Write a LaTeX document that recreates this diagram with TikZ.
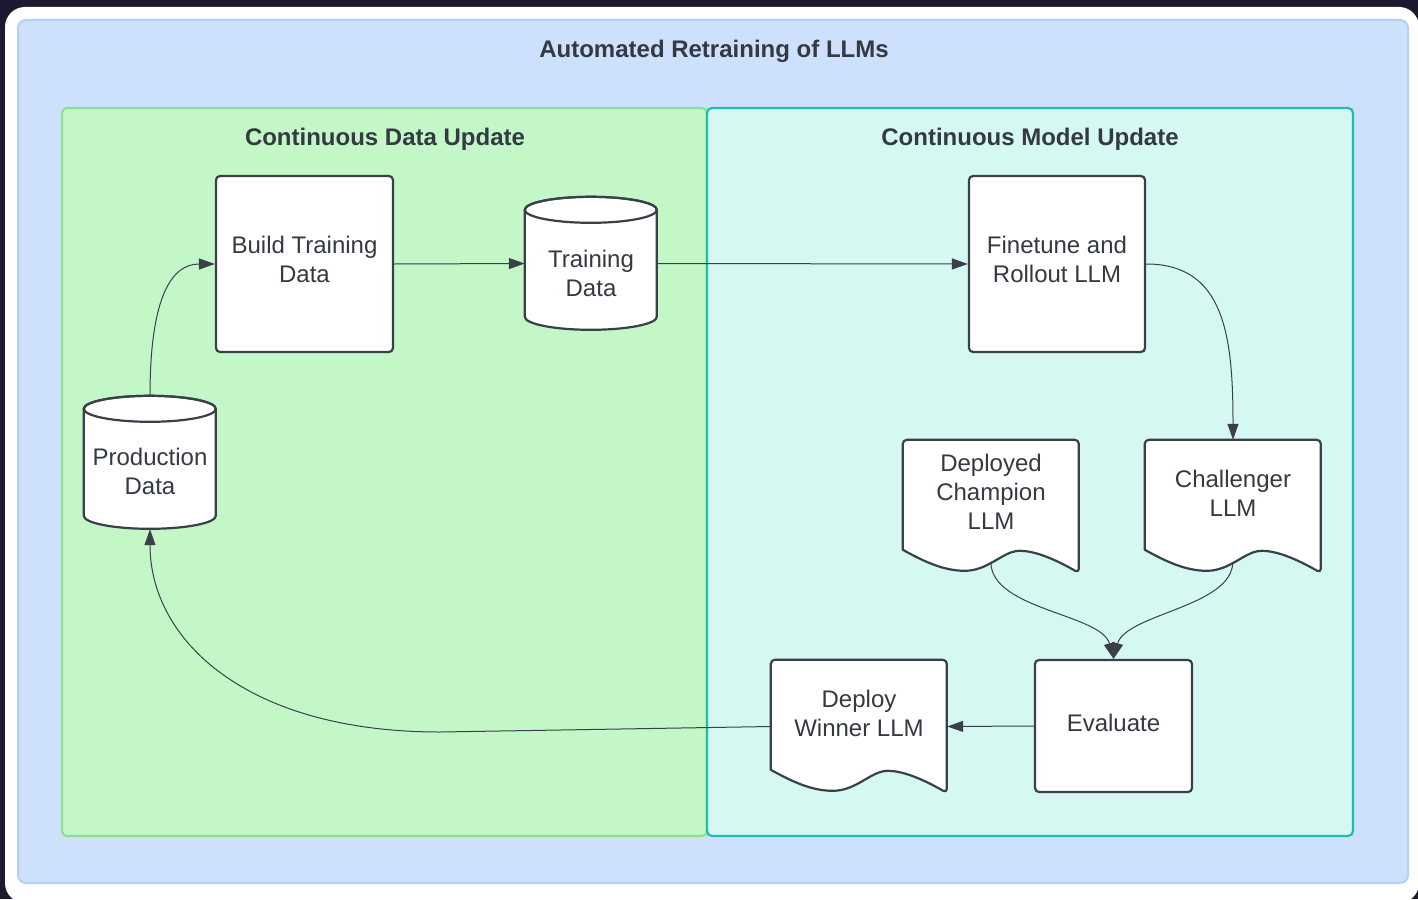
\documentclass[tikz,border=0pt]{standalone}
\usepackage{fontspec}
\setmainfont{Liberation Sans}
\usetikzlibrary{arrows.meta,calc}

\definecolor{bgdark}{RGB}{27,26,48}
\definecolor{panelblue}{RGB}{205,225,253}
\definecolor{panelblueline}{RGB}{180,207,248}
\definecolor{panelgreen}{RGB}{195,247,200}
\definecolor{panelgreenline}{RGB}{138,225,150}
\definecolor{panelteal}{RGB}{213,248,242}
\definecolor{paneltealline}{RGB}{32,190,172}
\definecolor{ink}{RGB}{58,64,73}
\definecolor{inktext}{RGB}{52,57,66}

\pgfdeclarelayer{panels}
\pgfdeclarelayer{shapes}
\pgfsetlayers{panels,shapes,main}

\tikzset{
  lbl/.style={font=\fontsize{24}{29}\selectfont, text=inktext, align=center},
  heading/.style={font=\bfseries\fontsize{24}{29}\selectfont, text=inktext},
  holder/.style={rectangle, inner sep=0pt, lbl},
  procbox/.style={holder, draw=ink, line width=2.2pt, fill=white, rounded corners=4pt},
  outline/.style={draw=ink, line width=2.2pt, fill=white, line join=round},
  link/.style={draw=ink, line width=1pt, -{Triangle[length=16pt,width=11pt]}},
}

% database cylinder around a named node (width 132, given height)
\newcommand\cylinderoutline[2]{%
  \begin{pgfonlayer}{shapes}
  \begin{scope}[shift={(#1.north west)}]
    \path[outline] (0,13) -- (0,{#2-13})
      arc[start angle=180,end angle=360,x radius=66pt,y radius=13pt]
      -- (132,13)
      arc[start angle=0,end angle=180,x radius=66pt,y radius=13pt] -- cycle;
    \draw[ink, line width=2.2pt] (66,13) ellipse[x radius=66pt, y radius=13pt];
  \end{scope}
  \end{pgfonlayer}}

% document shape (176 x 133) with a wavy lower edge
\newcommand\docoutline[1]{%
  \begin{pgfonlayer}{shapes}
  \begin{scope}[shift={(#1.north west)}]
    \path[outline] (0,110) [rounded corners=4pt] -- (0,0) -- (176,0) -- (176,133)
      [sharp corners]
      .. controls (160,124) and (136,111) .. (117,111)
      .. controls (100,111) and (86,131) .. (62,131)
      .. controls (40,131) and (20,121) .. (0,110) -- cycle;
  \end{scope}
  \end{pgfonlayer}}

\begin{document}
\begin{tikzpicture}[x=1pt,y=-1pt]
\useasboundingbox (0,0) rectangle (1418,899);

% frame and panels
\begin{pgfonlayer}{panels}
  \fill[bgdark] (0,0) rectangle (1418,899);
  \fill[white, rounded corners=20pt] (5,7) rectangle (1419,903);
  \draw[panelblueline, fill=panelblue, line width=2pt, rounded corners=8pt] (18,20) rectangle (1408,883);
  \draw[panelgreenline, fill=panelgreen, line width=2.2pt, rounded corners=5pt] (62,108) rectangle (707,836);
  \draw[paneltealline, fill=panelteal, line width=2.2pt, rounded corners=5pt] (707,108) rectangle (1353,836);
\end{pgfonlayer}

\node[heading] (title) at (714,51) {Automated Retraining of LLMs};
\node[heading] (datahead) at (385,139) {Continuous Data Update};
\node[heading] (modelhead) at (1030,139) {Continuous Model Update};

% process boxes
\node[procbox, minimum width=177pt, minimum height=176pt] (build) at (304.5,264) {};
\node[lbl, name=build-text] at (304.5,259) {Build Training\\Data};
\node[procbox, minimum width=176pt, minimum height=176pt] (fine) at (1057,264) {};
\node[lbl, name=fine-text] at (1057,259) {Finetune and\\Rollout LLM};
\node[procbox, minimum width=157pt, minimum height=132pt] (eval) at (1113.5,726) {};
\node[lbl, name=eval-text] at (1113.5,723) {Evaluate};

% data stores
\node[holder, minimum width=132pt, minimum height=133pt] (td) at (591,263.5) {};
\cylinderoutline{td}{133}
\node[lbl, name=td-text] at (591,273.5) {Training\\Data};

\node[holder, minimum width=132pt, minimum height=133pt] (prod) at (150,462.5) {};
\cylinderoutline{prod}{133}
\node[lbl, name=prod-text] at (150,471.5) {Production\\Data};

% documents
\node[holder, minimum width=176pt, minimum height=133pt] (champ) at (991,506.5) {};
\docoutline{champ}
\node[lbl, name=champ-text] at (991,492) {Deployed\\Champion\\LLM};

\node[holder, minimum width=176pt, minimum height=133pt] (chal) at (1233,506.5) {};
\docoutline{chal}
\node[lbl, name=chal-text] at (1233,493.5) {Challenger\\LLM};

\node[holder, minimum width=176pt, minimum height=133pt] (win) at (859,726.5) {};
\docoutline{win}
\node[lbl, name=win-text] at (859,713.5) {Deploy\\Winner LLM};

% connector end points on the wavy edges
\coordinate (champ-out) at ($(champ.north west)+(88,122)$);
\coordinate (chal-out) at ($(chal.north west)+(88,122)$);
\coordinate (loopback) at (440,732);

% connectors
\draw[link] (prod.north) .. controls ($(prod.north)+(0,-95)$) and ($(build.west)+(-45,0)$) .. (build.west);
\draw[link] (build.east) -- (td.west);
\draw[link] (td.east) -- (fine.west);
\draw[link] (fine.east) .. controls ($(fine.east)+(78,0)$) and ($(chal.north)+(0,-105)$) .. (chal.north);
\draw[link] (champ-out) .. controls ($(champ-out)+(0,48)$) and ($(eval.north)+(-12,-45)$) .. (eval.north);
\draw[link] (chal-out) .. controls ($(chal-out)+(0,45)$) and ($(eval.north)+(12,-45)$) .. (eval.north);
\draw[link] (eval.west) -- (win.east);
\draw[link] (win.west) -- (loopback) .. controls ($(loopback)+(-195,0)$) and ($(prod.south)+(0,110)$) .. (prod.south);
\end{tikzpicture}
\end{document}
